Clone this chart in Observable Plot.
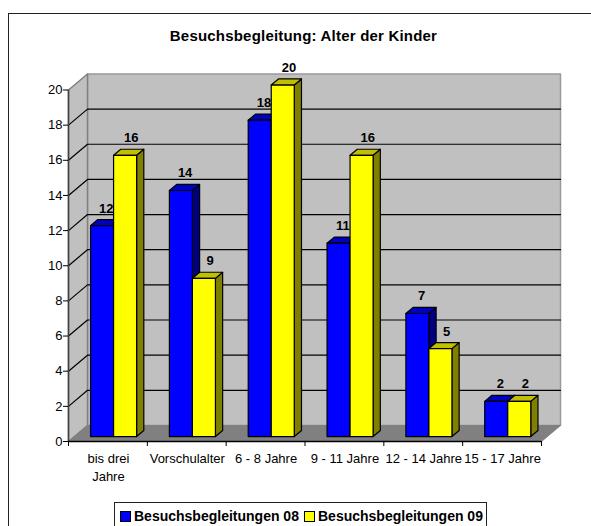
<!DOCTYPE html>
<html><head><meta charset="utf-8">
<script src="https://cdn.jsdelivr.net/npm/d3@7"></script>
<script src="https://cdn.jsdelivr.net/npm/@observablehq/plot@0.6"></script>
<style>
html,body{margin:0;padding:0;background:#fff;overflow:hidden}
#wrap{position:relative;width:591px;height:526px;font-family:"Liberation Sans",Arial,sans-serif;color:#000}
#wrap svg{position:absolute;left:0;top:0;background:transparent}
#frame{position:absolute;left:8px;top:13px;right:-5px;bottom:-5px;border:1.5px solid #222;box-sizing:border-box}
#title{position:absolute;left:0;width:607px;top:28px;text-align:center;font-weight:bold;font-size:15px;line-height:16px;letter-spacing:.2px}
#legend{position:absolute;left:114px;top:502px;width:373px;height:30px;border:1px solid #222;box-sizing:border-box;font-weight:bold;font-size:14px;white-space:nowrap}
#legend span{position:absolute;top:5px;line-height:16px}
#legend i{position:absolute;top:8px;width:9px;height:9px;border:1px solid #000}
</style></head><body>
<div id="wrap"><div id="frame"></div><div id="title">Besuchsbegleitung: Alter der Kinder</div><div id="legend"></div></div>
<script>
const categories = ["bis drei\nJahre","Vorschulalter","6 - 8 Jahre","9 - 11 Jahre","12 - 14 Jahre","15 - 17 Jahre"];
const seriesNames = ["Besuchsbegleitungen 08","Besuchsbegleitungen 09"];
const values08 = [12,14,18,11,7,2];
const values09 = [16,9,20,16,5,2];
const yTicks = [0,2,4,6,8,10,12,14,16,18,20];
// oblique-projection settings, expressed in data units
const depthX = 0.241, depthY = 0.912;
const barNear = 0.31, barFar = 0.69, barInset = 0.205, barWidth = 0.292;
const palettes = [
  {front:"#0000ff",top:"#0000c0",side:"#000080"},
  {front:"#ffff00",top:"#c0c000",side:"#808000"}
];
const proj = (x,v,d) => ({x:x+d*depthX, y:v+d*depthY});
const faces = [];
let fid = 0;
function face(corners, fill){ const id = fid++; for(const c of [...corners,corners[0]]) faces.push({...c,id,fill}); }
// bars, painted left to right
const labels = [];
categories.forEach((_,i)=>{
  [values08[i],values09[i]].forEach((v,s)=>{
    const p = palettes[s], x0 = i+barInset+s*barWidth, x1 = x0+barWidth;
    face([proj(x1,0,barNear),proj(x1,0,barFar),proj(x1,v,barFar),proj(x1,v,barNear)],p.side);
    face([proj(x0,v,barNear),proj(x1,v,barNear),proj(x1,v,barFar),proj(x0,v,barFar)],p.top);
    face([proj(x0,0,barNear),proj(x1,0,barNear),proj(x1,v,barNear),proj(x0,v,barNear)],p.front);
    labels.push({...proj((x0+x1)/2,v,barFar),v,s});
  });
});
const n = categories.length;
const wall = [proj(0,0,1),proj(n,0,1),proj(n,20,1),proj(0,20,1)];
const side = [proj(0,0,0),proj(0,0,1),proj(0,20,1),proj(0,20,0)];
const floor = [proj(0,0,0),proj(n,0,0),proj(n,0,1),proj(0,0,1)];
const poly = a => [...a,a[0]];
const grid = yTicks.filter(t=>t>0&&t<20).flatMap(t=>[
  {...proj(0,t,0),t},{...proj(0,t,1),t},{...proj(n,t,1),t}
]);
const labelStyle = {x:"x",y:"y",text:"v",dy:-7,lineAnchor:"bottom",fontWeight:"bold",fontSize:13,fill:"#000"};
const chart = Plot.plot({
  width:591,height:526,
  marginLeft:68,marginRight:50,marginTop:89.5,marginBottom:85,
  x:{type:"linear",domain:[0,n]},
  y:{type:"linear",domain:[0,20]},
  color:{type:"identity"},
  style:{fontFamily:"'Liberation Sans',Arial,sans-serif",fontSize:"13px",color:"#000",background:"transparent",overflow:"visible"},
  marks:[
    Plot.line(poly(wall),{x:"x",y:"y",fill:"#c0c0c0",stroke:"#999",strokeWidth:1.5}),
    Plot.line(poly(side),{x:"x",y:"y",fill:"#c0c0c0",stroke:"#808080",strokeWidth:1.5}),
    Plot.line(poly(floor),{x:"x",y:"y",fill:"#808080",stroke:"#808080",strokeWidth:1}),
    Plot.line(grid,{x:"x",y:"y",z:"t",stroke:"#000",strokeWidth:1.2}),
    Plot.line(faces,{x:"x",y:"y",z:"id",fill:"fill",stroke:"#000",strokeWidth:1.2}),
    Plot.ruleX([0],{y1:0,y2:20,stroke:"#404040",strokeWidth:1.5}),
    Plot.ruleY([0],{x1:0,x2:n,stroke:"#000",strokeWidth:1.5}),
    Plot.axisY({ticks:yTicks,tickSize:5,tickPadding:1,label:null,fontSize:13}),
    Plot.axisX({ticks:d3.range(n+1),tickSize:5,tickFormat:()=>"",label:null}),
    Plot.text(categories,{x:(d,i)=>i+0.5,y:()=>0,text:d=>d,dy:9,dx:0.5,lineAnchor:"top",fontSize:13,lineHeight:1.38,fill:"#000"}),
    Plot.text(labels.filter(d=>d.s===0),{...labelStyle,dx:-3}),
    Plot.text(labels.filter(d=>d.s===1),{...labelStyle,dx:-1})
  ]
});
const wrap = document.getElementById("wrap");
wrap.insertBefore(chart,wrap.firstChild);
const legend = document.getElementById("legend");
[[5,19],[189,203]].forEach(([sx,tx],s)=>{
  const sw = document.createElement("i");
  sw.style.left = sx+"px"; sw.style.background = palettes[s].front;
  const t = document.createElement("span");
  t.style.left = tx+"px"; t.textContent = seriesNames[s];
  legend.append(sw,t);
});
</script>
</body></html>
